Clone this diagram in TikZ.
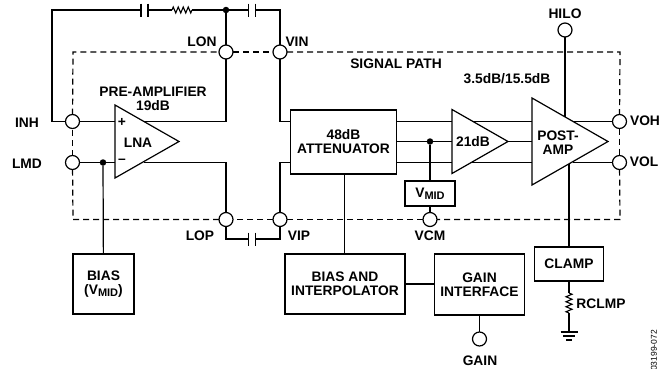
\documentclass[tikz,border=0pt]{standalone}
\usepackage{fontspec}
\setmainfont{Liberation Sans}
\usepackage{xcolor}
\usetikzlibrary{positioning, shapes.geometric, decorations.pathmorphing}

\newcommand{\vmidtext}{V\raisebox{-2.5pt}{\fontsize{11}{10}\selectfont MID}}

\tikzset{
    wire/.style={line width=1.2pt},
    pad/.style={circle, draw, line width=1.2pt, fill=white, minimum size=14pt, inner sep=0pt, outer sep=0pt},
    blockbox/.style={rectangle, draw, line width=1.2pt, fill=white, inner sep=0pt, outer sep=0pt, align=center, font=\bfseries\fontsize{13.8}{14}\selectfont},
    amp/.style={isosceles triangle, isosceles triangle stretches, draw, line width=1.2pt, fill=white, inner sep=0pt, outer sep=0pt, anchor=lower side},
    junction/.style={circle, fill=black, minimum size=6.5pt, inner sep=0pt, outer sep=0pt},
    capgap/.style={rectangle, minimum width=7pt, minimum height=13pt, inner sep=0pt, outer sep=0pt},
    lbl/.style={inner sep=0pt, align=center, font=\bfseries\fontsize{13.8}{14}\selectfont},
    pathedge/.style={line width=1.2pt, dash pattern=on 6pt off 4pt},
    zig/.style={line width=1.1pt, decorate, decoration={zigzag, amplitude=3pt, segment length=5pt}}
}

\begin{document}
\begin{tikzpicture}[x=1pt, y=-1pt, on grid]
        \useasboundingbox (0,0) rectangle (672,368);

        % pads
        \node[pad] (lon) at (226,52) {};
        \node[pad] (vin) [right=54pt of lon] {};
        \node[pad] (lop) [below=167.5pt of lon] {};
        \node[pad] (vip) [right=54pt of lop] {};
        \node[pad] (inh) at (72.5,121.5) {};
        \node[pad] (lmd) [below=41pt of inh] {};
        \node[pad] (vcm) at (430,219.5) {};
        \node[pad] (hilo) at (565,30) {};
        \node[pad] (voh) at (619.5,121.5) {};
        \node[pad] (vol) [below=41pt of voh] {};
        \node[pad] (gain) at (479.5,339) {};

        % signal path outline
        \coordinate (tl) at (73,52);
        \coordinate (tr) at (620,52);
        \coordinate (bl) at (73,219.5);
        \coordinate (br) at (620,219.5);
        \draw[pathedge] (inh) -- (tl) -- (lon);
        \draw[pathedge] (lon) -- (vin);
        \draw[pathedge] (vin) -- (tr) -- (voh);
        \draw[pathedge] (voh) -- (vol);
        \draw[pathedge] (vol) -- (br) -- (vcm);
        \draw[pathedge] (vcm) -- (vip);
        \draw[pathedge] (vip) -- (lop);
        \draw[pathedge] (lop) -- (bl) -- (lmd);
        \draw[pathedge] (lmd) -- (inh);

        % blocks
        \node[blockbox, minimum width=61pt, minimum height=60pt] (bias) at (103.5,284) {BIAS\\(\vmidtext)};
        \node[blockbox, minimum width=106pt, minimum height=64pt] (atten) at (343.5,142) {48dB\\ATTENUATOR};
        \node[blockbox, minimum width=50pt, minimum height=25pt] (vmidbox) at (430,193.5) {\vmidtext};
        \node[blockbox, minimum width=120pt, minimum height=60pt] (interp) at (345,284) {BIAS AND\\INTERPOLATOR};
        \node[blockbox, minimum width=90pt, minimum height=61pt] (gainif) at (479.5,284.5) {GAIN\\INTERFACE};
        \node[blockbox, minimum width=69pt, minimum height=34pt] (clamp) at (569,264) {CLAMP};

        % amplifiers
        \node[amp, minimum width=73pt, minimum height=64pt] (lna) at (115,141.5) {};
        \node[amp, minimum width=64pt, minimum height=56pt] (vga) at (452,141.5) {};
        \node[amp, minimum width=87pt, minimum height=76pt] (post) at (532,141.5) {};

        \node[junction] (dotlmd) at (103,162.5) {};
        \node[junction] (dottop) at (226,10) {};
        \node[junction] (dotvmid) at (430,141.5) {};

        % capacitors
        \node[capgap] (capa) at (144.5,10) {};
        \node[capgap] (capb) at (252,10) {};
        \node[capgap] (capc) at (252,239) {};
        \foreach \cap in {capa, capb, capc} {
            \draw[wire] (\cap.north west) -- (\cap.south west);
            \draw[wire] (\cap.north east) -- (\cap.south east);
        }

        % resistors
        \coordinate (resal) at (172,10);
        \coordinate (resar) at (192,10);
        \coordinate (resbt) at (569,293);
        \coordinate (resbb) at (569,313);
        \draw[zig] (resal) -- (resar);
        \draw[zig] (resbt) -- (resbb);

        % ground
        \coordinate (gnd) at (569,332);
        \draw[wire] (560.5,332) -- (577.5,332);
        \draw[wire] (563,336) -- (575,336);
        \draw[wire] (566,340) -- (572,340);

        % where wires leave the slanted amplifier sides
        \coordinate (lnaup) at (144,121.5);
        \coordinate (lnalo) at (144,162.5);
        \coordinate (vgaup) at (472,121.5);
        \coordinate (vgalo) at (472,162.5);
        \coordinate (postup) at (573,121.5);
        \coordinate (postlo) at (573,162.5);
        \coordinate (posthilo) at (565,117);
        \coordinate (postclamp) at (569,164);

        % connections
        \draw[wire] (inh) -- (52,121.5) |- (capa.west);
        \draw[wire] (capa.east) -- (resal);
        \draw[wire] (resar) -- (dottop) -- (capb.west);
        \draw[wire] (capb.east) -- (280,10) -- (vin);
        \draw[wire] (dottop) -- (lon);
        \draw[wire] (inh) -- (lna.lower side |- inh);
        \draw[wire] (lmd) -- (dotlmd) -- (lna.lower side |- lmd);
        \draw[wire] (lnaup) -- (lon |- lnaup) -- (lon);
        \draw[wire] (lnalo) -- (lop |- lnalo) -- (lop);
        \draw[wire] (dotlmd) -- (bias);
        \draw[wire] (lop) -- (lop |- capc) -- (capc.west);
        \draw[wire] (capc.east) -- (vip |- capc) -- (vip);
        \draw[wire] (vin) -- (vin |- vgaup) -- (atten.west |- vgaup);
        \draw[wire] (vip) -- (vip |- vgalo) -- (atten.west |- vgalo);
        \draw[wire] (atten.east |- vgaup) -- (vga.lower side |- vgaup);
        \draw[wire] (atten.east |- dotvmid) -- (dotvmid) -- (vga.lower side);
        \draw[wire] (atten.east |- vgalo) -- (vga.lower side |- vgalo);
        \draw[wire] (dotvmid) -- (vmidbox);
        \draw[wire] (vmidbox) -- (vcm);
        \draw[wire] (vgaup) -- (post.lower side |- vgaup);
        \draw[wire] (vgalo) -- (post.lower side |- vgalo);
        \draw[wire] (vga.apex) -- (post.lower side);
        \draw[wire] (postup) -- (voh);
        \draw[wire] (postlo) -- (vol);
        \draw[wire] (hilo) -- (posthilo);
        \draw[wire] (postclamp) -- (clamp);
        \draw[wire] (clamp) -- (resbt);
        \draw[wire] (resbb) -- (gnd);
        \draw[wire] (atten.south -| 344.3,0) -- (344.3,254);
        \draw[wire] (interp.east |- 0,284) -- (gainif.west |- 0,284);
        \draw[wire] (gainif) -- (gain);

        % labels
        \node[lbl] (tinh) at (27,123) {INH};
        \node[lbl] (tlmd) at (27,164) {LMD};
        \node[lbl] (tlon) at (202,42) {LON};
        \node[lbl] (tvin) at (297,42) {VIN};
        \node[lbl] (tlop) at (200,236) {LOP};
        \node[lbl] (tvip) at (299,236) {VIP};
        \node[lbl] (tvcm) at (430,236) {VCM};
        \node[lbl] (thilo) at (565,14) {HILO};
        \node[lbl] (tvoh) at (645,121) {VOH};
        \node[lbl] (tvol) at (644,162) {VOL};
        \node[lbl] (tgain) at (480,361) {GAIN};
        \node[lbl] (trclmp) at (601,304) {RCLMP};
        \node[lbl] (tpre) at (153,99) {PRE-AMPLIFIER\\19dB};
        \node[lbl] (tlna) at (138,142.5) {LNA};
        \node[lbl] (tplus) at (122,122) {+};
        \node[lbl] (tminus) at (122,161) {--};
        \node[lbl] (tsignal) at (396,64) {SIGNAL PATH};
        \node[lbl] (tpostgain) at (507,79) {3.5dB/15.5dB};
        \node[lbl] (tvga) at (473,141.5) {21dB};
        \node[lbl] (tpost) at (558,143) {POST-\\AMP};
        \node[inner sep=0pt, rotate=90, font=\fontsize{8.5}{8}\selectfont] (tcode) at (654,350.5) {03199-072};
\end{tikzpicture}
\end{document}
